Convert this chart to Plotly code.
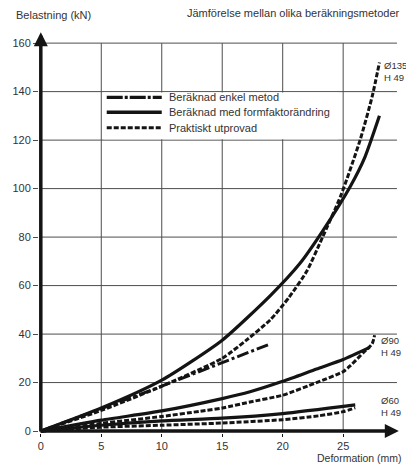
import plotly.graph_objects as go

# --- data -----------------------------------------------------------------
series_names = ["Beräknad enkel metod", "Beräknad med formfaktorändring", "Praktiskt utprovad"]
group_labels = ["Ø135<br>H 49", "Ø90<br>H 49", "Ø60<br>H 49"]

# simple method (straight line)
simple_x = [0, 10, 19]
simple_y = [0, 18.5, 36]

# computed with form-factor change
calc135_x = [0, 5, 10, 15, 19, 21.4, 23.3, 25.6, 26.8, 28.0]
calc135_y = [0, 9.5, 21, 37.5, 56, 69, 82.5, 101, 113, 130]
calc90_x = [0, 5, 10, 15, 17.3, 20, 22.8, 25, 27.2]
calc90_y = [0, 4.5, 8.3, 13.4, 16.2, 20.5, 25.6, 29.5, 34.5]
calc60_x = [0, 5, 10, 15, 20, 26]
calc60_y = [0, 2.4, 4.2, 5.3, 7.2, 10.8]

# measured in practice
test135_x = [0, 5, 10, 15, 17, 19, 20.5, 22, 23.3, 24.8, 26.4, 27.4, 28.0]
test135_y = [0, 8.5, 18.5, 30, 37.5, 46, 55, 66, 80, 97, 120, 138, 152]
test90_x = [0, 5, 10, 13.2, 15, 17.3, 20, 22.8, 25, 25.6, 26.7, 27.4, 27.6]
test90_y = [0, 3.2, 6, 8.2, 9.5, 12, 14.8, 20, 24.5, 27, 32.5, 36, 39.5]
test60_x = [0, 5, 10, 15, 20, 23, 25, 26]
test60_y = [0, 1.6, 2.4, 3.3, 4.7, 6.3, 8, 9.6]

x_ticks = [0, 5, 10, 15, 20, 25]
y_ticks = [0, 20, 40, 60, 80, 100, 120, 140, 160]

# --- styling ----------------------------------------------------------------
INK = "#141414"
GRID = "#4d4d4d"
TXT = "#333333"
FONT = "Liberation Sans"
SOLID = dict(color=INK, width=3.2, shape="spline", smoothing=0.6)
DASHED = dict(color=INK, width=3, dash="5px,2px", shape="spline", smoothing=0.6)
DASHDOT = dict(color=INK, width=3, dash="12px,3px,3px,3px")

# canvas geometry: pixel position of the origin and pixels per unit
W, H = 406, 465
X0PX, Y0PX, SX, SY = 41, 431.5, 12.08, 2.43
XR, YR = [-0.15, 29.7], [-0.8, 165]
L = X0PX + XR[0] * SX
R = W - (X0PX + XR[1] * SX)
T = Y0PX - YR[1] * SY
B = H - (Y0PX - YR[0] * SY)
PW, PH = W - L - R, H - T - B


def paper_x(px):
    return (px - L) / PW


def paper_y(py):
    return (H - B - py) / PH


fig = go.Figure()

fig.add_trace(go.Scatter(x=simple_x, y=simple_y, mode="lines", line=DASHDOT,
                         name=series_names[0], showlegend=False))
for xs, ys in [(calc135_x, calc135_y), (calc90_x, calc90_y), (calc60_x, calc60_y)]:
    fig.add_trace(go.Scatter(x=xs, y=ys, mode="lines", line=SOLID,
                             name=series_names[1], showlegend=False))
for xs, ys in [(test135_x, test135_y), (test90_x, test90_y), (test60_x, test60_y)]:
    fig.add_trace(go.Scatter(x=xs, y=ys, mode="lines", line=DASHED,
                             name=series_names[2], showlegend=False))

# grid: verticals stop at the top value, horizontals run out to the arrow
for v in x_ticks[1:]:
    fig.add_shape(type="line", x0=v, x1=v, y0=0, y1=y_ticks[-1], layer="below",
                  line=dict(color=GRID, width=1))
for h in y_ticks[1:]:
    fig.add_shape(type="line", x0=0, x1=29.45, y0=h, y1=h, layer="below",
                  line=dict(color=GRID, width=1))

# legend block with white background between the 120 and 140 grid lines
fig.add_shape(type="rect", x0=5.2, x1=24.6, y0=120.4, y1=139.6, layer="below",
              line=dict(width=0), fillcolor="white")
legend_styles = [dict(color=INK, width=3.2, dash="16px,2px,3px,2px"),
                 dict(color=INK, width=3.4),
                 dict(color=INK, width=3, dash="5px,2px")]
for py, st, name in zip([97, 112, 127.5], legend_styles, series_names):
    ly = (Y0PX - py) / SY
    fig.add_shape(type="line", x0=5.45, x1=10.0, y0=ly, y1=ly, line=st)
    fig.add_annotation(x=10.45, y=ly, text=name, showarrow=False, xanchor="left",
                       yanchor="middle", font=dict(family=FONT, size=11, color=TXT))

# group labels at the right end of each curve family
for (lx, ly), txt in zip([(28.2, 148.5), (27.95, 35), (27.95, 10.3)], group_labels):
    fig.add_annotation(x=lx, y=ly, text=txt, showarrow=False, xanchor="left",
                       yanchor="middle", align="left",
                       font=dict(family=FONT, size=9.5, color=TXT))

# thick axes with arrow heads
fig.add_annotation(x=0, y=164.5, ax=0, ay=-0.8, xref="x", yref="y", axref="x", ayref="y",
                   text="", showarrow=True, arrowhead=2, arrowsize=0.8, arrowwidth=3.5,
                   arrowcolor=INK, standoff=0)
fig.add_annotation(x=29.6, y=0, ax=-0.15, ay=0, xref="x", yref="y", axref="x", ayref="y",
                   text="", showarrow=True, arrowhead=2, arrowsize=0.8, arrowwidth=3.5,
                   arrowcolor=INK, standoff=0)

# axis titles and chart title
fig.add_annotation(x=paper_x(14), y=paper_y(15), xref="paper", yref="paper",
                   text="Belastning (kN)", showarrow=False, xanchor="left",
                   yanchor="middle", font=dict(family=FONT, size=11, color=TXT))
fig.add_annotation(x=paper_x(401), y=paper_y(13), xref="paper", yref="paper",
                   text="Jämförelse mellan olika beräkningsmetoder",
                   showarrow=False, xanchor="right", yanchor="middle",
                   font=dict(family=FONT, size=11, color=TXT))
fig.add_annotation(x=paper_x(404), y=paper_y(458), xref="paper", yref="paper",
                   text="Deformation (mm)", showarrow=False, xanchor="right",
                   yanchor="middle", font=dict(family=FONT, size=10.5, color=TXT))

fig.update_layout(
    width=W, height=H,
    margin=dict(l=L, r=R, t=T, b=B, pad=0),
    paper_bgcolor="white", plot_bgcolor="white",
    showlegend=False,
    xaxis=dict(range=XR, showgrid=False, zeroline=False, showline=False,
               tickvals=x_ticks, ticks="outside", ticklen=3, tickwidth=1,
               tickcolor=INK, tickfont=dict(family=FONT, size=11, color=TXT)),
    yaxis=dict(range=YR, showgrid=False, zeroline=False, showline=False,
               tickvals=y_ticks, ticks="outside", ticklen=5, tickwidth=1,
               tickcolor=GRID, tickfont=dict(family=FONT, size=11, color=TXT)),
)

fig.write_html("out.html")
